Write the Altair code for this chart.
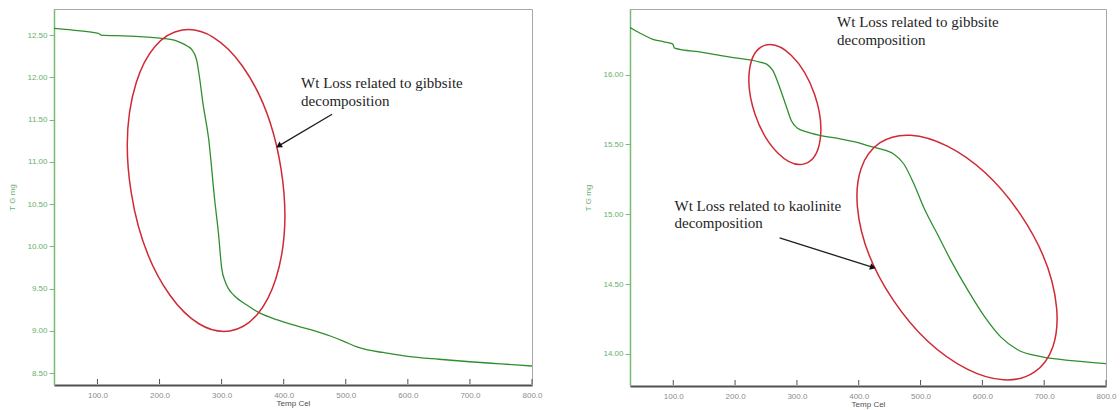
import altair as alt
import pandas as pd

# ---------------- data ----------------
left_temp = [30, 60, 95, 102, 106, 150, 200, 225, 235, 245, 252, 260, 265, 270, 279, 289, 295,
             300, 306, 311, 320, 340, 362, 390, 421, 450, 475, 496, 518, 535, 560, 600, 650,
             700, 750, 800]
left_mg = [12.58, 12.56, 12.53, 12.52, 12.50, 12.49, 12.465, 12.44, 12.41, 12.37, 12.33, 12.20,
           11.97, 11.69, 11.28, 10.54, 10.15, 9.75, 9.58, 9.50, 9.42, 9.31, 9.21, 9.13, 9.06,
           9.00, 8.94, 8.88, 8.81, 8.775, 8.745, 8.70, 8.665, 8.635, 8.61, 8.585]

right_temp = [29, 45, 66, 85, 99, 102, 147, 200, 224, 240, 251, 261, 272, 283, 291, 300, 316,
              337, 370, 392, 424, 445, 457, 473, 489, 505, 527, 549, 576, 603, 630, 657, 695,
              749, 800]
right_mg = [16.34, 16.30, 16.255, 16.235, 16.22, 16.19, 16.16, 16.12, 16.105, 16.09, 16.075,
            16.03, 15.91, 15.77, 15.67, 15.62, 15.59, 15.565, 15.54, 15.52, 15.48, 15.455, 15.43,
            15.36, 15.22, 15.05, 14.86, 14.67, 14.46, 14.27, 14.12, 14.03, 13.98, 13.95, 13.93]

x_ticks = [100, 200, 300, 400, 500, 600, 700, 800]
left_y_ticks = [8.5, 9.0, 9.5, 10.0, 10.5, 11.0, 11.5, 12.0, 12.5]
right_y_ticks = [14.0, 14.5, 15.0, 15.5, 16.0]

x_domain = [30, 800]
left_y_domain = [8.36, 12.81]
right_y_domain = [13.77, 16.47]

# annotations (data coordinates)
left_note_t = [428, 428]
left_note_m = [11.93, 11.72]
left_note_text = ["Wt Loss related to gibbsite", "decomposition"]
left_arrow = {"t": [478], "m": [11.565], "t2": [392], "m2": [11.19]}
left_ellipse_center = {"t": [275], "m": [10.78]}

right_note1_t = [365, 365]
right_note1_m = [16.38, 16.25]
right_note1_text = ["Wt Loss related to gibbsite", "decomposition"]
right_note2_t = [102, 102]
right_note2_m = [15.06, 14.94]
right_note2_text = ["Wt Loss related to kaolinite", "decomposition"]
right_arrow = {"t": [272], "m": [14.83], "t2": [423], "m2": [14.62]}
right_small_center = {"t": [280.5], "m": [15.786]}
right_big_center = {"t": [559], "m": [14.69]}

# ---------------- style ----------------
CURVE = "#2f8f2f"
YGREEN = "#74bd74"
YLABEL = "#6aae6a"
RED = "#d02a35"
XAXIS = "#505050"
XLABEL = "#8c8c8c"
SANS = "Liberation Sans"
SERIF = "Liberation Serif"


def ellipse_path(r):
    k = 0.5523
    return (f"M 0 -1 C {k*r:.4f} -1 {r:.4f} {-k:.4f} {r:.4f} 0 "
            f"C {r:.4f} {k:.4f} {k*r:.4f} 1 0 1 "
            f"C {-k*r:.4f} 1 {-r:.4f} {k:.4f} {-r:.4f} 0 "
            f"C {-r:.4f} {-k:.4f} {-k*r:.4f} -1 0 -1 Z")


def panel(temp, mg, ydom, yticks, notes, arrow, arrow_angle, ellipses, w, h):
    xs = alt.Scale(domain=x_domain, nice=False, zero=False)
    ys = alt.Scale(domain=ydom, nice=False, zero=False)
    df = pd.DataFrame({"t": temp, "m": mg})

    main_x_axis = alt.Axis(values=x_ticks, format=".1f", title="Temp Cel",
                           ticks=False, domainColor=XAXIS, domainWidth=2,
                           labelColor=XLABEL, labelFont=SANS, labelFontSize=8, labelPadding=6,
                           labelFlush=False, titleFont=SANS, titleFontSize=8,
                           titleFontWeight="normal", titleColor=XAXIS, titlePadding=0,
                           grid=False)
    y_axis = alt.Axis(values=yticks, format=".2f", title="T G mg",
                      titleFont=SANS, titleFontSize=8, titleFontWeight="normal",
                      titleColor=YLABEL, titlePadding=10, labelColor=YLABEL, labelFont=SANS,
                      labelFontSize=8, labelPadding=2, labelFlush=False, tickColor=YGREEN,
                      tickSize=5, domainColor=YGREEN, domainWidth=1.5, grid=False)

    line = alt.Chart(df).mark_line(color=CURVE, strokeWidth=1.3, clip=True,
                                   interpolate="monotone").encode(
        x=alt.X("t:Q", scale=xs, axis=main_x_axis),
        y=alt.Y("m:Q", scale=ys, axis=y_axis),
    )
    layers = [line]

    # inward x-axis ticks, placed at the bottom of the y domain
    tdf = pd.DataFrame({"t": x_ticks, "m": [ydom[0]] * len(x_ticks)})
    layers.append(
        alt.Chart(tdf).mark_tick(orient="vertical", size=5, thickness=1, yOffset=-3.5,
                                 color=XAXIS, opacity=1).encode(
            x=alt.X("t:Q", scale=xs), y=alt.Y("m:Q", scale=ys))
    )

    for center, r, size, angle in ellipses:
        layers.append(
            alt.Chart(pd.DataFrame(center)).mark_point(
                shape=ellipse_path(r), size=size, angle=angle, filled=False,
                color=RED, strokeWidth=1.5, opacity=1).encode(
                x=alt.X("t:Q", scale=xs),
                y=alt.Y("m:Q", scale=ys))
        )

    for nt, nm, ntext in notes:
        ndf = pd.DataFrame({"t": nt, "m": nm, "label": ntext})
        layers.append(
            alt.Chart(ndf).mark_text(align="left", baseline="middle", font=SERIF,
                                     fontSize=15, color="#1e1e1e").encode(
                x=alt.X("t:Q", scale=xs),
                y=alt.Y("m:Q", scale=ys),
                text="label:N")
        )

    adf = pd.DataFrame(arrow)
    layers.append(
        alt.Chart(adf).mark_rule(color="#1e1e1e", strokeWidth=1.3).encode(
            x=alt.X("t:Q", scale=xs), y=alt.Y("m:Q", scale=ys),
            x2="t2:Q", y2="m2:Q")
    )
    layers.append(
        alt.Chart(adf).mark_point(shape="triangle-up", size=45, angle=arrow_angle, filled=True,
                                  color="#111111", opacity=1).encode(
            x=alt.X("t2:Q", scale=xs), y=alt.Y("m2:Q", scale=ys))
    )

    return alt.layer(*layers).properties(width=w, height=h)


left = panel(left_temp, left_mg, left_y_domain, left_y_ticks,
             [(left_note_t, left_note_m, left_note_text)],
             left_arrow, 239,
             [(left_ellipse_center, 0.498, 92781, 351)],
             478, 376)

right = panel(right_temp, right_mg, right_y_domain, right_y_ticks,
              [(right_note1_t, right_note1_m, right_note1_text),
               (right_note2_t, right_note2_m, right_note2_text)],
              right_arrow, 107,
              [(right_small_center, 0.502, 15625, 341),
               (right_big_center, 0.555, 76396, 326)],
              476, 377)

chart = alt.hconcat(left, right, spacing=98, bounds="flush").properties(
    padding={"left": 8, "top": 8, "right": 0, "bottom": 0},
    background="white",
).configure_view(stroke="#a8a8a8", strokeWidth=1)

chart.save("out.html", embed_options={"renderer": "svg", "actions": False})
